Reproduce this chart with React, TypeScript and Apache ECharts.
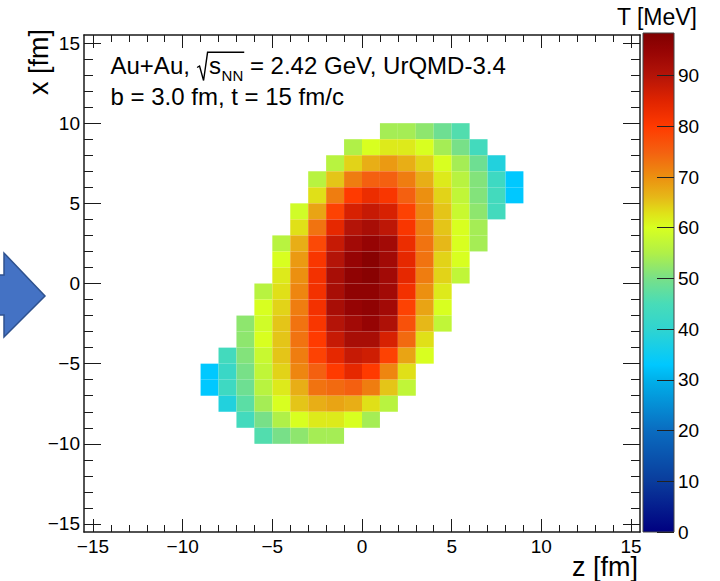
import React, { useEffect, useRef } from 'react';
import * as echarts from 'echarts';

// ---- data: T [MeV] per 1 fm x 1 fm cell; each row is one x-bin [x, x+1], cells start at zStart ----
const rowX = [9, 8, 7, 6, 5, 4, 3, 2, 1, 0, -1, -2, -3, -4, -5, -6, -7, -8, -9, -10];
const rowZStart = [1, -1, -2, -3, -3, -4, -4, -5, -5, -5, -6, -6, -7, -7, -8, -9, -9, -8, -7, -6];
const rowT = [
  [54, 54, 52, 49, 46],
  [55, 60, 62, 62, 60, 54, 50, 44],
  [56, 64, 67, 69, 67, 64, 60, 54, 49, 38],
  [56, 65, 72, 75, 75, 72, 67, 62, 56, 51, 43, 33],
  [63, 72, 80, 83, 81, 75, 70, 64, 57, 51, 44, 33],
  [59, 68, 79, 86, 88, 86, 79, 71, 65, 58, 52, 44],
  [63, 73, 84, 90, 92, 89, 81, 72, 65, 60, 54],
  [56, 67, 78, 88, 93, 95, 93, 83, 73, 66, 60, 54],
  [60, 69, 81, 90, 95, 97, 93, 84, 73, 64, 60],
  [62, 70, 82, 92, 96, 97, 93, 84, 72, 64, 57],
  [56, 63, 71, 82, 92, 96, 96, 93, 82, 70, 62],
  [60, 64, 72, 82, 92, 95, 96, 93, 79, 68, 60],
  [52, 59, 65, 73, 81, 90, 93, 95, 91, 77, 66, 57],
  [52, 60, 65, 73, 80, 88, 92, 92, 86, 74, 63],
  [44, 51, 58, 65, 72, 79, 84, 88, 87, 79, 68, 60],
  [33, 42, 50, 57, 64, 71, 75, 80, 84, 80, 71, 63],
  [33, 43, 49, 56, 62, 67, 73, 74, 75, 72, 65, 57],
  [38, 47, 54, 60, 65, 67, 68, 67, 63, 56],
  [44, 50, 55, 60, 62, 62, 60, 54],
  [46, 50, 52, 54, 54],
];

// axis ticks
const majorTicks = [-15, -10, -5, 0, 5, 10, 15];
const minorTicks = [-14, -13, -12, -11, -9, -8, -7, -6, -4, -3, -2, -1, 1, 2, 3, 4, 6, 7, 8, 9, 11, 12, 13, 14];
const colorbarTicks = [0, 10, 20, 30, 40, 50, 60, 70, 80, 90];
const tMax = 98.4;

// palette stops (value -> colour)
const paletteValues = [0, 10, 20, 30, 33, 40, 45, 50, 55, 60, 63, 66, 70, 75, 80, 85, 90, 95, 98.4];
const paletteColors = ['#000080', '#0a3c9c', '#0a6cc0', '#00b0ea', '#00c8ff', '#30d4d0', '#48dcb8', '#78e088', '#b0f048', '#d8ff20', '#e0e018', '#e6b818', '#ec9010', '#f46010', '#ff3a00', '#e02400', '#b41408', '#960404', '#800000'];

const FAM = '"Liberation Sans", Arial, Helvetica, sans-serif';

function hexToRgb(h: string) {
  return [parseInt(h.slice(1, 3), 16), parseInt(h.slice(3, 5), 16), parseInt(h.slice(5, 7), 16)];
}
function colorFor(v: number) {
  if (v <= paletteValues[0]) return paletteColors[0];
  for (let i = 1; i < paletteValues.length; i++) {
    if (v <= paletteValues[i]) {
      const f = (v - paletteValues[i - 1]) / (paletteValues[i] - paletteValues[i - 1]);
      const a = hexToRgb(paletteColors[i - 1]);
      const b = hexToRgb(paletteColors[i]);
      const c = a.map((x, k) => Math.round(x + (b[k] - x) * f));
      return `rgb(${c[0]},${c[1]},${c[2]})`;
    }
  }
  return paletteColors[paletteColors.length - 1];
}

const fmt = (v: number) => (v < 0 ? '\u2212' + Math.abs(v) : String(v));

export default function App() {
  const ref = useRef<HTMLDivElement>(null);
  useEffect(() => {
    const chart = echarts.init(ref.current!, null, { renderer: 'svg' });

    const data: number[][] = [];
    rowX.forEach((x, r) => {
      rowT[r].forEach((t, i) => data.push([rowZStart[r] + i, x, t]));
    });

    const ctx = document.createElement('canvas').getContext('2d')!;
    const measure = (s: string, size: number) => {
      ctx.font = `${size}px ${FAM}`;
      return ctx.measureText(s).width;
    };

    const frame = { color: '#1a1a1a', width: 1.5 };
    const tickLine = { color: '#1a1a1a', width: 1 };
    const labelStyle = { fontSize: 19, color: '#000', fontFamily: FAM };

    const mkX = (position: string, len: number, vals: number[], labels: boolean, line: boolean) => ({
      type: 'value', gridIndex: 0, position, min: -15.5, max: 15.5,
      axisLine: { show: line, onZero: false, lineStyle: frame },
      axisTick: { show: true, inside: true, length: len, customValues: vals, lineStyle: tickLine },
      axisLabel: labels ? { ...labelStyle, margin: 5, customValues: majorTicks, formatter: fmt } : { show: false },
      splitLine: { show: false },
    });
    const mkY = (position: string, len: number, vals: number[], labels: boolean, line: boolean) => ({
      type: 'value', gridIndex: 0, position, min: -15.5, max: 15.5,
      axisLine: { show: line, onZero: false, lineStyle: frame },
      axisTick: { show: true, inside: true, length: len, customValues: vals, lineStyle: tickLine },
      axisLabel: labels ? { ...labelStyle, margin: 4, customValues: majorTicks, formatter: fmt } : { show: false },
      splitLine: { show: false },
    });

    const gradStops = paletteValues.map((v, i) => ({ offset: v / tMax, color: paletteColors[i] }));

    // title pieces
    const tx0 = 110.5;
    const rx = tx0 + measure('Au+Au, ', 24) + 0.5;
    const sX = rx + 12;
    const nX = sX + measure('s', 24) + 0.5;
    const restX = nX + measure('NN', 15);
    const base1 = 73.3;

    const option: any = {
      animation: false,
      textStyle: { fontFamily: FAM },
      grid: [
        { left: 84, top: 35, width: 556, height: 497, show: false },
        {
          left: 643, top: 33, width: 31, height: 499, show: true,
          borderColor: '#444', borderWidth: 1,
          backgroundColor: new echarts.graphic.LinearGradient(0, 1, 0, 0, gradStops),
        },
      ],
      xAxis: [
        mkX('bottom', 13, majorTicks, true, true),
        mkX('bottom', 7, minorTicks, false, false),
        mkX('top', 13, majorTicks, false, true),
        mkX('top', 7, minorTicks, false, false),
        { type: 'value', gridIndex: 1, show: false, min: 0, max: 1 },
      ],
      yAxis: [
        mkY('left', 17, majorTicks, true, true),
        mkY('left', 9, minorTicks, false, false),
        mkY('right', 17, majorTicks, false, true),
        mkY('right', 9, minorTicks, false, false),
        {
          type: 'value', gridIndex: 1, position: 'right', min: 0, max: tMax,
          axisLine: { show: false, onZero: false },
          axisTick: { show: true, inside: true, length: 17, customValues: colorbarTicks, lineStyle: { color: '#222', width: 1 } },
          axisLabel: { ...labelStyle, margin: 4, customValues: colorbarTicks },
          splitLine: { show: false },
        },
      ],
      series: [
        {
          type: 'custom',
          xAxisIndex: 0,
          yAxisIndex: 0,
          data,
          encode: { x: 0, y: 1 },
          renderItem: (params: any, api: any) => {
            const z = api.value(0);
            const x = api.value(1);
            const t = api.value(2);
            const p0 = api.coord([z, x + 1]);
            const p1 = api.coord([z + 1, x]);
            return {
              type: 'rect',
              shape: { x: p0[0], y: p0[1], width: p1[0] - p0[0], height: p1[1] - p0[1] },
              style: { fill: colorFor(t) },
            };
          },
        },
      ],
      graphic: [
        {
          type: 'polygon',
          shape: { points: [[-5, 275], [4, 275], [4, 253], [45, 296], [4, 337], [4, 315], [-5, 315]] },
          style: { fill: '#4472C4', stroke: '#2F528F', lineWidth: 1.5 },
        },
        { type: 'text', x: tx0, y: base1 - 8.3, style: { text: 'Au+Au, ', fontSize: 24, fontFamily: FAM, fill: '#000', align: 'left', verticalAlign: 'middle' } },
        {
          type: 'polyline',
          shape: { points: [[rx, 67.5], [rx + 2.5, 66], [rx + 6.5, 80.5], [rx + 10.5, 52.3], [restX + 1, 52.3]] },
          style: { stroke: '#000', lineWidth: 1.4, fill: 'none' },
        },
        { type: 'text', x: sX, y: base1 - 8.3, style: { text: 's', fontSize: 24, fontFamily: FAM, fill: '#000', align: 'left', verticalAlign: 'middle' } },
        { type: 'text', x: nX, y: 80.7 - 5.2, style: { text: 'NN', fontSize: 15, fontFamily: FAM, fill: '#000', align: 'left', verticalAlign: 'middle' } },
        { type: 'text', x: restX, y: base1 - 8.3, style: { text: ' = 2.42 GeV, UrQMD-3.4', fontSize: 24, fontFamily: FAM, fill: '#000', align: 'left', verticalAlign: 'middle' } },
        { type: 'text', x: tx0, y: 105 - 8.3, style: { text: 'b = 3.0 fm, t = 15 fm/c', fontSize: 24, fontFamily: FAM, fill: '#000', align: 'left', verticalAlign: 'middle' } },
        { type: 'text', x: 697, y: 25 - 8, style: { text: 'T [MeV]', fontSize: 23, fontFamily: FAM, fill: '#000', align: 'right', verticalAlign: 'middle' } },
        { type: 'text', x: 638, y: 576 - 9.4, style: { text: 'z [fm]', fontSize: 27, fontFamily: FAM, fill: '#000', align: 'right', verticalAlign: 'middle' } },
        { type: 'text', x: 39, y: 29, rotation: Math.PI / 2, style: { text: 'x [fm]', fontSize: 27, fontFamily: FAM, fill: '#000', align: 'right', verticalAlign: 'middle' } },
      ],
    };

    chart.setOption(option);
    return () => chart.dispose();
  }, []);

  return <div ref={ref} style={{ position: 'fixed', left: 0, top: 0, width: 720, height: 581, background: '#fff' }} />;
}
